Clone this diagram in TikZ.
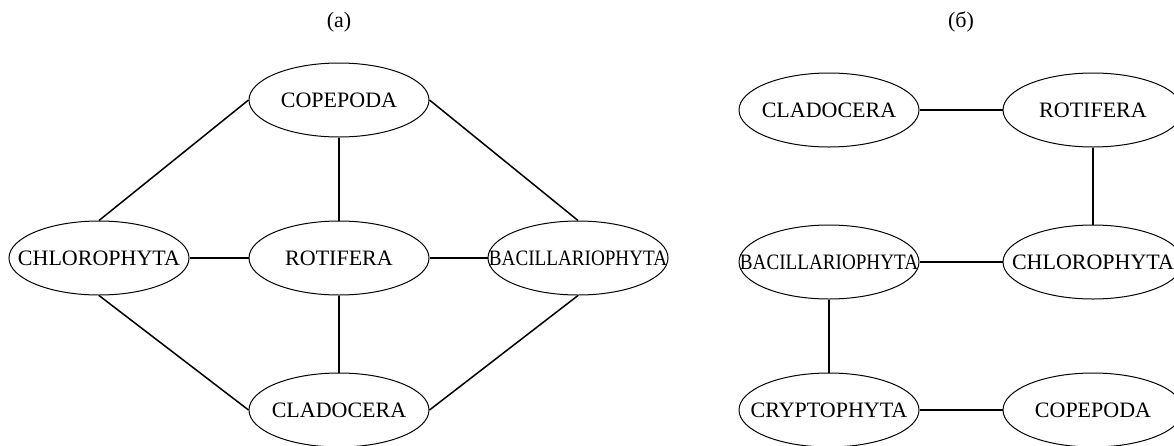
\documentclass[tikz,border=0pt]{standalone}
\usepackage{fontspec}
\setmainfont{Liberation Serif}
\usetikzlibrary{shapes.geometric}
\tikzset{
  taxon/.style={draw, ellipse, line width=1pt, minimum width=180pt, minimum height=74pt, inner sep=0pt, font=\fontsize{22}{25}\selectfont},
  link/.style={line width=1.5pt},
  caption/.style={font=\fontsize{22}{25}\selectfont, inner sep=0pt}
}
\newcommand{\tx}[1]{\makebox[0pt]{#1}}
\begin{document}
\begin{tikzpicture}[x=1pt, y=-1pt]
\useasboundingbox (0,0) rectangle (1174,445);
% panel (a)
\node[caption] (capa) at (339,22) {(a)};
\node[taxon] (cop) at (339,100) {\tx{COPEPODA}};
\node[taxon] (chl) at (99,258) {\tx{CHLOROPHYTA}};
\node[taxon] (rot) at (339,258) {\tx{ROTIFERA}};
\node[taxon] (bac) at (578,258) {\tx{\scalebox{0.87}[1]{BACILLARIOPHYTA}}};
\node[taxon] (cla) at (339,410) {\tx{CLADOCERA}};
\draw[link] (cop.south) -- (rot.north);
\draw[link] (chl.east) -- (rot.west);
\draw[link] (rot.east) -- (bac.west);
\draw[link] (rot.south) -- (cla.north);
\draw[link] (chl.north) -- (cop.west);
\draw[link] (cop.east) -- (bac.north);
\draw[link] (chl.south) -- (cla.west);
\draw[link] (bac.south) -- (cla.east);
% panel (b)
\node[caption] (capb) at (961,22) {(б)};
\node[taxon] (cla2) at (829,110) {\tx{CLADOCERA}};
\node[taxon] (rot2) at (1093,110) {\tx{ROTIFERA}};
\node[taxon] (bac2) at (829,262) {\tx{\scalebox{0.87}[1]{BACILLARIOPHYTA}}};
\node[taxon] (chl2) at (1093,262) {\tx{CHLOROPHYTA}};
\node[taxon] (cry) at (829,410) {\tx{CRYPTOPHYTA}};
\node[taxon] (cop2) at (1093,410) {\tx{COPEPODA}};
\draw[link] (cla2.east) -- (rot2.west);
\draw[link] (rot2.south) -- (chl2.north);
\draw[link] (bac2.east) -- (chl2.west);
\draw[link] (bac2.south) -- (cry.north);
\draw[link] (cry.east) -- (cop2.west);
\end{tikzpicture}
\end{document}
